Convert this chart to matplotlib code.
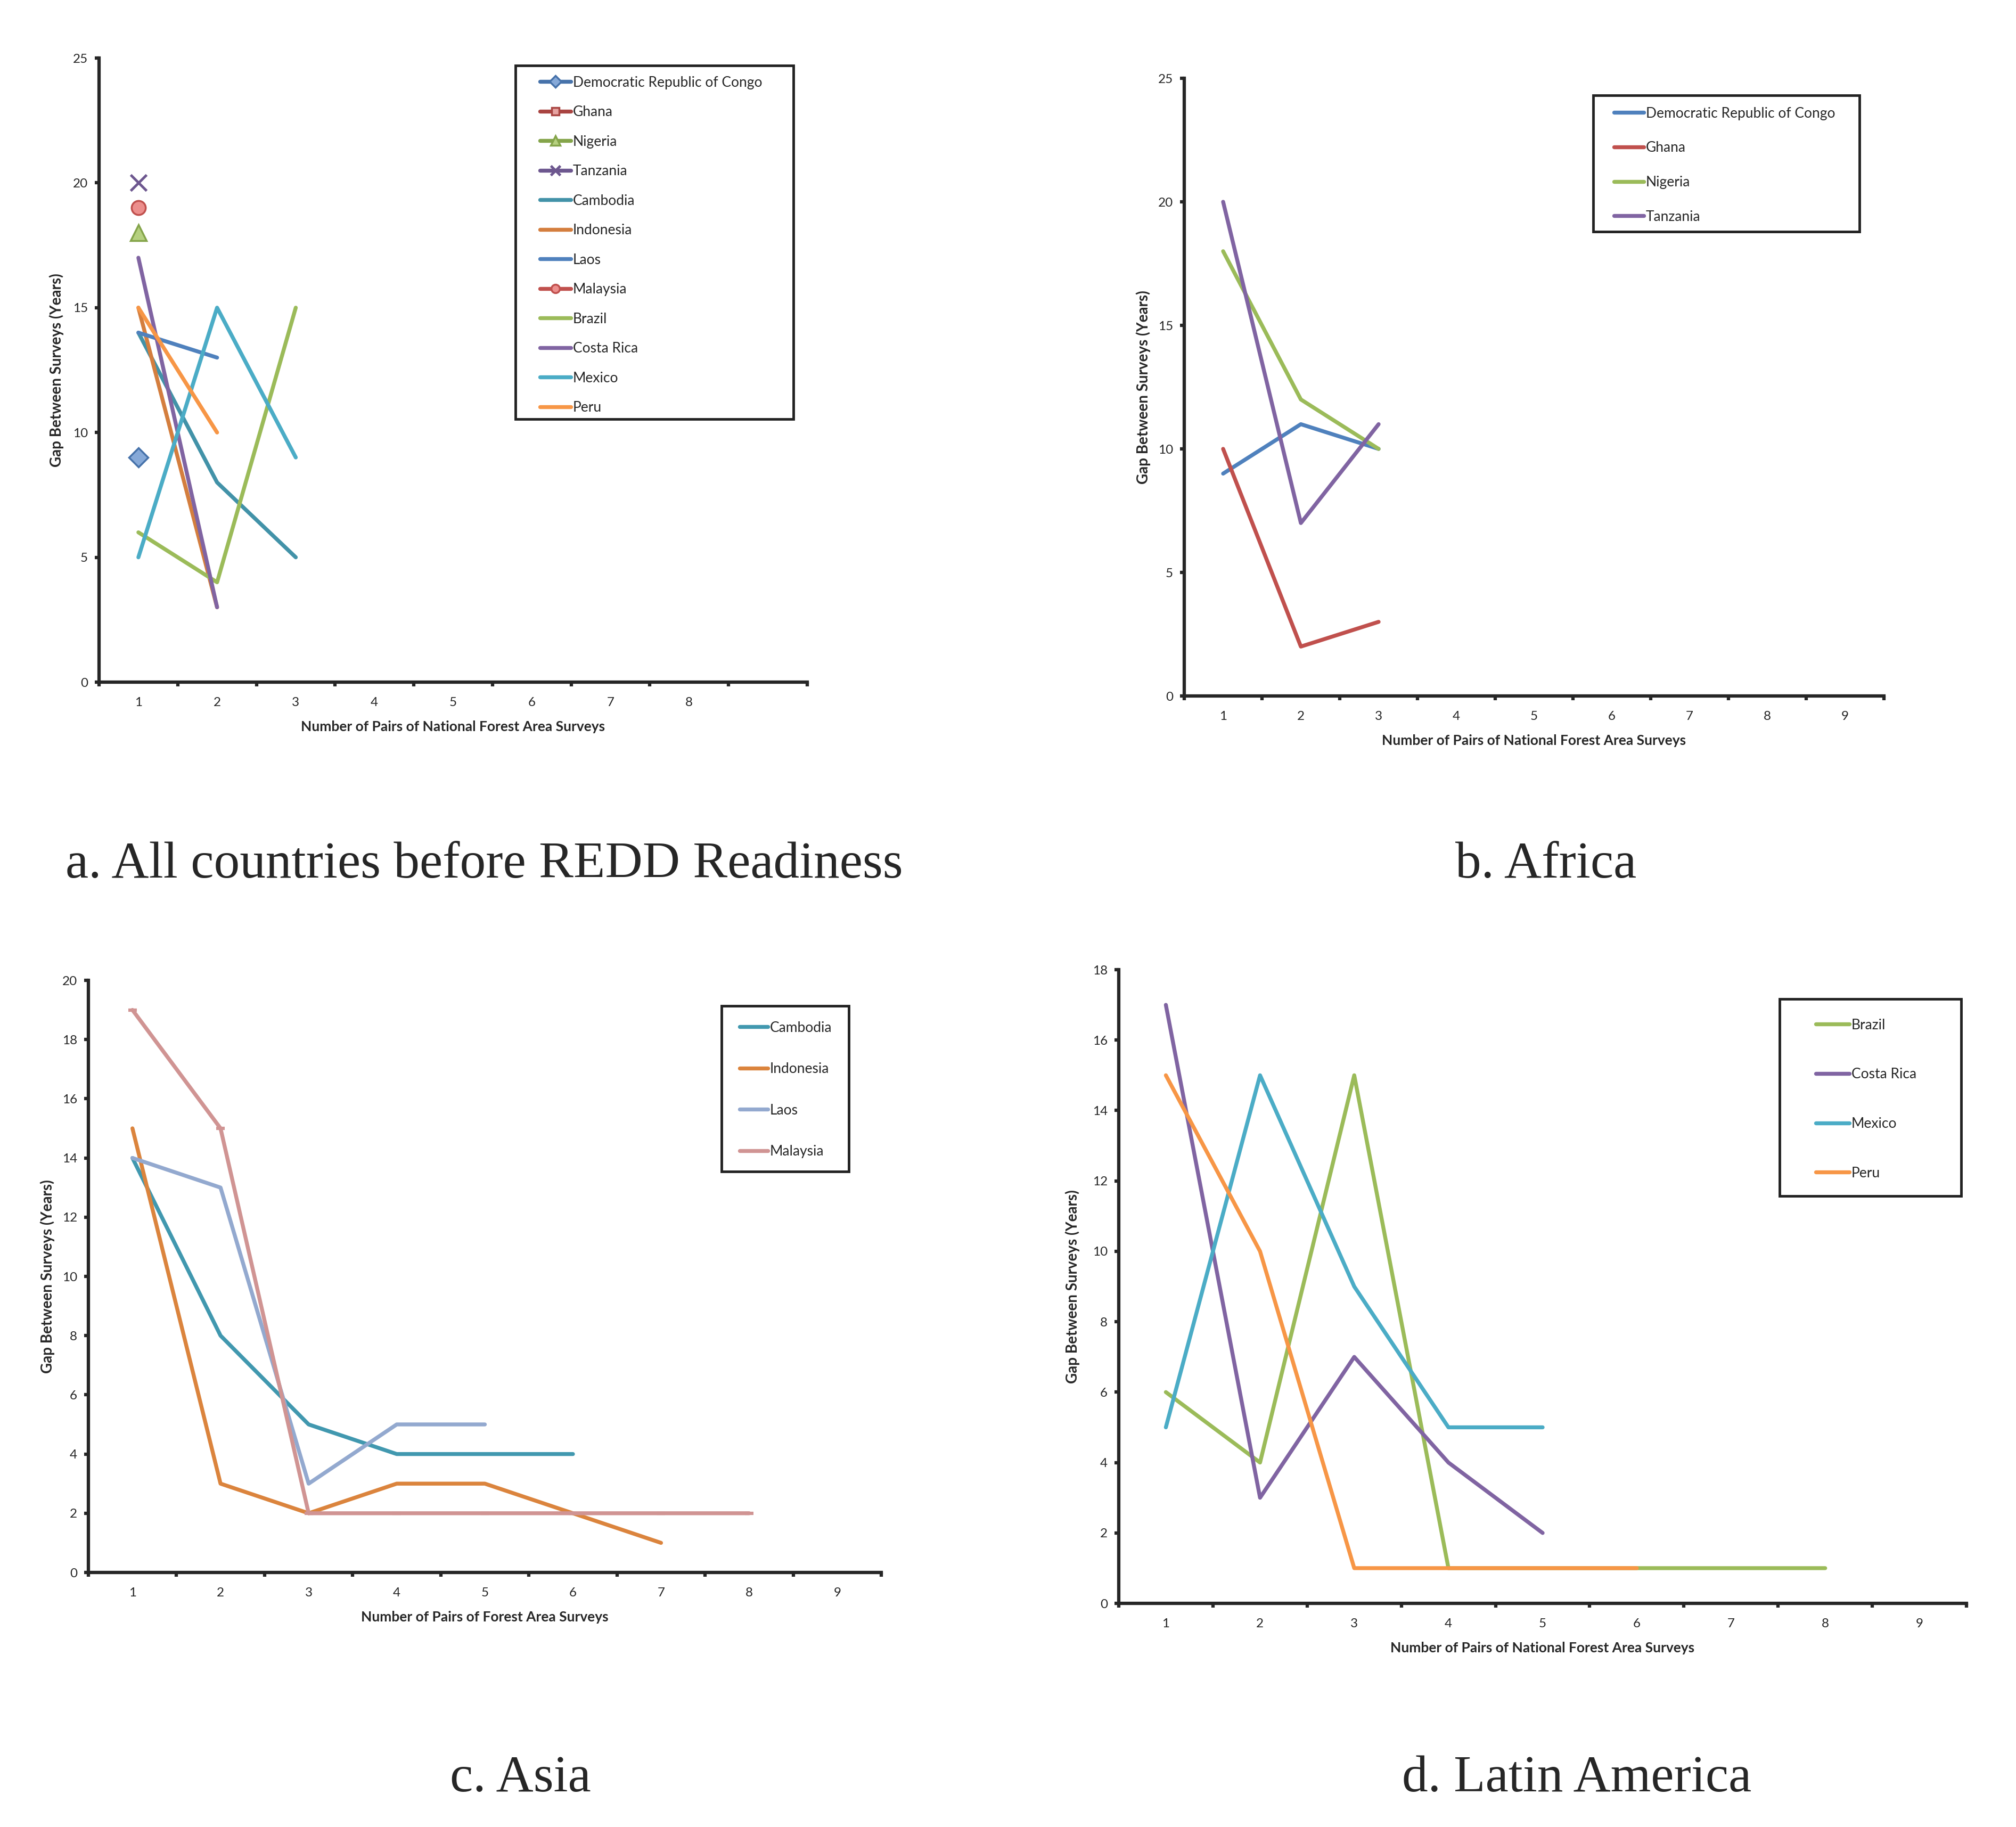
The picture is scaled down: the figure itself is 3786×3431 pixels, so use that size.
import numpy as np
import matplotlib.pyplot as plt
from matplotlib.patches import Rectangle
from matplotlib.ticker import FixedLocator, NullFormatter

# ---- data ----
x_all = [1, 2, 3, 4, 5, 6, 7, 8]

# panel a: all countries before REDD readiness
a_names = ['Democratic Republic of Congo', 'Ghana', 'Nigeria', 'Tanzania',
           'Cambodia', 'Indonesia', 'Laos', 'Malaysia',
           'Brazil', 'Costa Rica', 'Mexico', 'Peru']
a_drc = [9]
a_ghana = []
a_nigeria = [18]
a_tanzania = [20]
a_cambodia = [14, 8, 5]
a_indonesia = [15, 3]
a_laos = [14, 13]
a_malaysia = [19]
a_brazil = [6, 4, 15]
a_costarica = [17, 3]
a_mexico = [5, 15, 9]
a_peru = [15, 10]

# panel b: Africa
b_names = ['Democratic Republic of Congo', 'Ghana', 'Nigeria', 'Tanzania']
b_drc = [9, 11, 10]
b_ghana = [10, 2, 3]
b_nigeria = [18, 12, 10]
b_tanzania = [20, 7, 11]

# panel c: Asia
c_names = ['Cambodia', 'Indonesia', 'Laos', 'Malaysia']
c_cambodia = [14, 8, 5, 4, 4, 4]
c_indonesia = [15, 3, 2, 3, 3, 2, 1]
c_laos = [14, 13, 3, 5, 5]
c_malaysia = [19, 15, 2, 2, 2, 2, 2, 2]

# panel d: Latin America
d_names = ['Brazil', 'Costa Rica', 'Mexico', 'Peru']
d_brazil = [6, 4, 15, 1, 1, 1, 1, 1]
d_costarica = [17, 3, 7, 4, 2]
d_mexico = [5, 15, 9, 5, 5]
d_peru = [15, 10, 1, 1, 1, 1]

captions = ['a. All countries before REDD Readiness', 'b. Africa',
            'c. Asia', 'd. Latin America']
ylab = 'Gap Between Surveys (Years)'
xlab_nat = 'Number of Pairs of National Forest Area Surveys'
xlab_asia = 'Number of Pairs of Forest Area Surveys'

# ---- figure ----
W, H = 3786, 3431
fig = plt.figure(figsize=(W / 100, H / 100), dpi=100)
fig.patch.set_facecolor('white')

SANS = 'Lato'
DARK = '#262626'
LW = 5.3
FS = 19          # legend font size (pt)
FSPX = FS * 100 / 72


def add_axes(l, r, t, b):
    ax = fig.add_axes([l / W, 1 - b / H, (r - l) / W, (b - t) / H])
    ax._px = (l, r, t, b)
    return ax


def style_axis(ax, ymax, ystep, xlabel, nlabels, ylab_dx):
    l, r, t, b = ax._px
    ax.set_xlim(0.5, 9.5)
    ax.set_ylim(0, ymax)
    for s in ['top', 'right']:
        ax.spines[s].set_visible(False)
    for s in ['left', 'bottom']:
        ax.spines[s].set_linewidth(4.5)
        ax.spines[s].set_color(DARK)
    ax.set_xticks(range(1, 10))
    ax.set_xticklabels([str(i) if i <= nlabels else '' for i in range(1, 10)])
    ax.xaxis.set_minor_locator(FixedLocator(np.arange(0.5, 10, 1.0)))
    ax.xaxis.set_minor_formatter(NullFormatter())
    ax.tick_params(axis='x', which='major', length=0, pad=20,
                   labelsize=17.5, labelcolor=DARK)
    ax.tick_params(axis='x', which='minor', length=6, width=4.5,
                   direction='out', color=DARK)
    ax.set_yticks(np.arange(0, ymax + 0.1, ystep))
    ax.tick_params(axis='y', length=6, width=4.5, direction='out',
                   color=DARK, pad=9, labelsize=17.5, labelcolor=DARK)
    for lab in ax.get_xticklabels() + ax.get_yticklabels():
        lab.set_fontfamily(SANS)
    ax.set_xlabel(xlabel, fontsize=19, fontweight='bold', family=SANS,
                  color=DARK)
    ax.xaxis.set_label_coords(0.5, -72 / (b - t))
    ax.set_ylabel(ylab, fontsize=20, fontweight='bold', family=SANS,
                  color=DARK, va='center')
    ax.yaxis.set_label_coords(-ylab_dx / (r - l), 0.5)


def legend(ax, box, hx, first_y, spacing, hlen):
    # box = (left, right, top, bottom) in figure pixels
    row_h = FSPX * 0.94
    leg = ax.legend(loc='upper left',
                    bbox_to_anchor=(hx / W, 1 - (first_y - row_h / 2) / H),
                    bbox_transform=fig.transFigure, borderaxespad=0,
                    borderpad=0, frameon=False,
                    prop={'family': SANS, 'size': FS},
                    handlelength=hlen / FSPX, handletextpad=0.15,
                    labelspacing=(spacing - row_h) / FSPX)
    for t in leg.get_texts():
        t.set_color(DARK)
    x0, x1, y0, y1 = box
    fig.add_artist(Rectangle((x0 / W, 1 - y1 / H), (x1 - x0) / W,
                             (y1 - y0) / H, transform=fig.transFigure,
                             fill=False, lw=3.5, ec='#222222'))
    return leg


def xs(vals):
    return x_all[:len(vals)]


# ---- panel a ----
ax = add_axes(186, 1516, 109, 1281)
a_series = [
    (a_drc, '#4672AA', dict(marker='D', ms=18, mfc='#86A9D8', mec='#4672AA', mew=2.5)),
    (a_ghana, '#A94441', dict(marker='s', ms=17, mfc='#E6A3A1', mec='#A94441', mew=2.5)),
    (a_nigeria, '#84A44A', dict(marker='^', ms=21, mfc='#B5D07F', mec='#84A44A', mew=2.5)),
    (a_tanzania, '#6D578F', dict(marker='x', ms=21, mec='#6D578F', mew=3.5)),
    (a_cambodia, '#4292A8', {}),
    (a_indonesia, '#D47E3E', {}),
    (a_laos, '#4F81BD', {}),
    (a_malaysia, '#C0504D', dict(marker='o', ms=19, mfc='#EC8E8C', mec='#C0504D', mew=2.5)),
    (a_brazil, '#9BBB59', {}),
    (a_costarica, '#8064A2', {}),
    (a_mexico, '#4BACC6', {}),
    (a_peru, '#F79646', {}),
]
for (vals, col, mk), name in zip(a_series, a_names):
    ax.plot(xs(vals), vals, color=col, lw=LW, label=name,
            solid_capstyle='round', **mk)
style_axis(ax, 25, 5, xlab_nat, 8, 80)
leg = legend(ax, (968, 1490, 123, 787), 1014, 155, 55.3, 58)
for h in leg.legend_handles:
    if h.get_marker() not in (None, 'None', ''):
        h.set_markersize(h.get_markersize() * 0.6)

# ---- panel b ----
ax = add_axes(2224, 3538, 147, 1307)
b_series = [(b_drc, '#4F81BD'), (b_ghana, '#C0504D'),
            (b_nigeria, '#9BBB59'), (b_tanzania, '#8064A2')]
for (vals, col), name in zip(b_series, b_names):
    ax.plot(xs(vals), vals, color=col, lw=LW, label=name,
            solid_capstyle='round')
style_axis(ax, 25, 5, xlab_nat, 9, 77)
legend(ax, (2992, 3492, 179, 435), 3031, 213, 64.5, 56)

# ---- panel c ----
ax = add_axes(166, 1655, 1841, 2953)
c_series = [(c_cambodia, '#4198AF', {}), (c_indonesia, '#DB843D', {}),
            (c_laos, '#93A9CF', {}),
            (c_malaysia, '#D09493', dict(marker='_', ms=12, mew=4.5))]
for (vals, col, mk), name in zip(c_series, c_names):
    ax.plot(xs(vals), vals, color=col, lw=LW, label=name,
            solid_capstyle='round', **mk)
style_axis(ax, 20, 2, xlab_asia, 9, 77)
leg = legend(ax, (1355, 1594, 1889, 2200), 1389, 1930, 77.3, 53)
for h in leg.legend_handles:
    h.set_marker('None')

# ---- panel d ----
ax = add_axes(2101, 3693, 1821, 3011)
d_series = [(d_brazil, '#9BBB59'), (d_costarica, '#8064A2'),
            (d_mexico, '#4BACC6'), (d_peru, '#F79646')]
for (vals, col), name in zip(d_series, d_names):
    ax.plot(xs(vals), vals, color=col, lw=LW, label=name,
            solid_capstyle='round')
style_axis(ax, 18, 2, xlab_nat, 9, 87)
legend(ax, (3342, 3683, 1876, 2246), 3410, 1925, 92.5, 63)

# ---- captions ----
cap_pos = [(909, 1648), (2903, 1648), (977, 3364), (2961, 3364)]
for txt, (cx, cy) in zip(captions, cap_pos):
    fig.text(cx / W, 1 - cy / H, txt, ha='center', va='baseline',
             fontsize=70, family='Liberation Serif', color=DARK)

fig.savefig('out.png', dpi=100, facecolor='white')
